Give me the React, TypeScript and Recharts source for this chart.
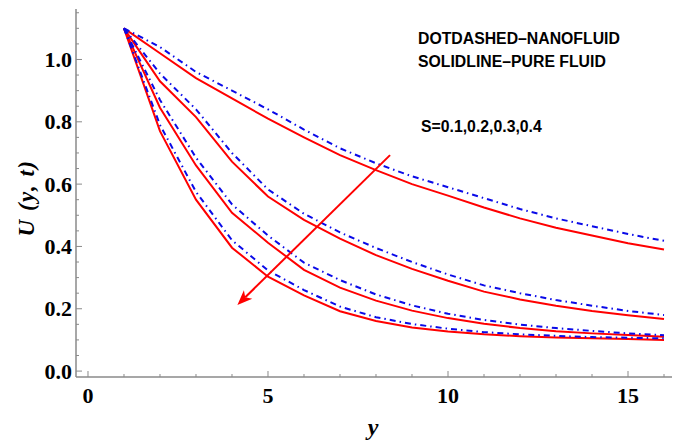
import React from "react";
import { LineChart, Line, XAxis, YAxis, ReferenceLine, Label } from "recharts";

// Data
const yPositions = [1, 2, 3, 4, 5, 6, 7, 8, 9, 10, 11, 12, 13, 14, 15, 16];

const pureS01 = [1.1, 1.02, 0.94, 0.875, 0.81, 0.75, 0.693, 0.645, 0.6, 0.563, 0.525, 0.49, 0.46, 0.435, 0.41, 0.39];
const nanoS01 = [1.1, 1.04, 0.96, 0.9, 0.84, 0.775, 0.715, 0.667, 0.625, 0.59, 0.555, 0.52, 0.49, 0.465, 0.44, 0.418];
const pureS02 = [1.1, 0.93, 0.815, 0.672, 0.56, 0.485, 0.425, 0.372, 0.328, 0.29, 0.255, 0.23, 0.21, 0.193, 0.179, 0.167];
const nanoS02 = [1.1, 0.955, 0.84, 0.7, 0.583, 0.505, 0.445, 0.395, 0.35, 0.31, 0.275, 0.25, 0.228, 0.21, 0.193, 0.18];
const pureS03 = [1.1, 0.845, 0.66, 0.508, 0.412, 0.325, 0.268, 0.226, 0.194, 0.17, 0.152, 0.138, 0.128, 0.121, 0.116, 0.11];
const nanoS03 = [1.1, 0.87, 0.685, 0.535, 0.435, 0.348, 0.292, 0.246, 0.211, 0.184, 0.164, 0.149, 0.138, 0.129, 0.121, 0.115];
const pureS04 = [1.1, 0.77, 0.55, 0.396, 0.303, 0.243, 0.192, 0.161, 0.14, 0.127, 0.118, 0.112, 0.108, 0.105, 0.103, 0.1];
const nanoS04 = [1.1, 0.79, 0.575, 0.42, 0.323, 0.26, 0.207, 0.173, 0.151, 0.136, 0.125, 0.118, 0.113, 0.109, 0.107, 0.105];

const xTicks = [0, 1, 2, 3, 4, 5, 6, 7, 8, 9, 10, 11, 12, 13, 14, 15, 16];
const xMajor = [0, 5, 10, 15];
const yTicks = [0, 0.05, 0.1, 0.15, 0.2, 0.25, 0.3, 0.35, 0.4, 0.45, 0.5, 0.55, 0.6, 0.65, 0.7, 0.75, 0.8, 0.85, 0.9, 0.95, 1.0, 1.05, 1.1, 1.15];
const yMajor = [0, 0.2, 0.4, 0.6, 0.8, 1.0];

const arrowFrom = { x: 8.39, u: 0.693 };
const arrowTo = { x: 4.15, u: 0.212 };

const annotations = ["DOTDASHED\u2013NANOFLUID", "SOLIDLINE\u2013PURE FLUID", "S=0.1,0.2,0.3,0.4"];

const rows = yPositions.map((x, i) => ({
  x,
  p1: pureS01[i], n1: nanoS01[i],
  p2: pureS02[i], n2: nanoS02[i],
  p3: pureS03[i], n3: nanoS03[i],
  p4: pureS04[i], n4: nanoS04[i],
}));

const FRAME = "#8a8a8a";
const RED = "#ff0000";
const BLUE = "#0a0ae8";
const DASH = "6 4 1.5 4";
const serif = "'Liberation Serif', 'Times New Roman', serif";
const sans = "'Liberation Sans', Arial, sans-serif";

const isMajorX = (v: number) => xMajor.some((m) => Math.abs(m - v) < 1e-9);
const isMajorY = (v: number) => yMajor.some((m) => Math.abs(m - v) < 1e-9);

const BottomTick = (p: any) => {
  const v = p.payload.value;
  const major = isMajorX(v);
  return (
    <g>
      <line x1={p.x} y1={p.y} x2={p.x} y2={p.y - (major ? 6 : 3)} stroke={FRAME} strokeWidth={1} />
      {major && (
        <text x={p.x} y={p.y + 26} textAnchor="middle" fontFamily={serif} fontWeight="bold" fontSize={22} fill="#000">
          {v}
        </text>
      )}
    </g>
  );
};
const TopTick = (p: any) => {
  const v = p.payload.value;
  const major = isMajorX(v);
  return <line x1={p.x} y1={p.y} x2={p.x} y2={p.y + (major ? 6 : 3)} stroke={FRAME} strokeWidth={1} />;
};
const LeftTick = (p: any) => {
  const v = p.payload.value;
  const major = isMajorY(v);
  return (
    <g>
      <line x1={p.x} y1={p.y} x2={p.x + (major ? 6 : 3)} y2={p.y} stroke={FRAME} strokeWidth={1} />
      {major && (
        <text x={p.x - 4} y={p.y + 7.5} textAnchor="end" fontFamily={serif} fontWeight="bold" fontSize={22} fill="#000">
          {v.toFixed(1)}
        </text>
      )}
    </g>
  );
};
const RightTick = (p: any) => {
  const v = p.payload.value;
  const major = isMajorY(v);
  return <line x1={p.x} y1={p.y} x2={p.x - (major ? 6 : 3)} y2={p.y} stroke={FRAME} strokeWidth={1} />;
};

const ArrowShape = (p: any) => {
  const { x1, y1, x2, y2 } = p;
  const ang = Math.atan2(y2 - y1, x2 - x1);
  const len = 15;
  const half = 6;
  const bx = x2 - len * Math.cos(ang);
  const by = y2 - len * Math.sin(ang);
  const nx = -Math.sin(ang);
  const ny = Math.cos(ang);
  const lx = x2 - (len - 4) * Math.cos(ang);
  const ly = y2 - (len - 4) * Math.sin(ang);
  return (
    <g>
      <line x1={x1} y1={y1} x2={lx} y2={ly} stroke={RED} strokeWidth={2} />
      <polygon
        points={`${x2},${y2} ${bx + nx * half},${by + ny * half} ${lx},${ly} ${bx - nx * half},${by - ny * half}`}
        fill={RED}
      />
    </g>
  );
};

const noteStyle: React.CSSProperties = {
  position: "absolute",
  fontFamily: sans,
  fontWeight: "bold",
  fontSize: 15.8,
  lineHeight: "18px",
  color: "#000",
  whiteSpace: "nowrap",
};

export default function App() {
  const W = 672;
  const H = 435;
  return (
    <div style={{ position: "relative", width: W, height: H }}>
      <LineChart width={W} height={H} data={rows} margin={{ top: 1, right: 8, bottom: 0, left: 0 }}>
        <XAxis
          xAxisId={0}
          dataKey="x"
          type="number"
          domain={[-0.333, 16.222]}
          ticks={xTicks}
          interval={0}
          height={66}
          tickSize={0}
          tickMargin={0}
          tickLine={false}
          axisLine={{ stroke: FRAME, strokeWidth: 1.5 }}
          tick={<BottomTick />}
          allowDataOverflow
        >
          <Label
            content={() => (
              <text x={365} y={427} textAnchor="middle" fontFamily={serif} fontStyle="italic" fontWeight="bold" fontSize={24} fill="#000">
                y
              </text>
            )}
          />
        </XAxis>
        <XAxis
          xAxisId="top"
          orientation="top"
          dataKey="x"
          type="number"
          domain={[-0.333, 16.222]}
          ticks={xTicks}
          interval={0}
          height={0}
          tickSize={0}
          tickMargin={0}
          tickLine={false}
          axisLine={{ stroke: FRAME, strokeWidth: 1.5 }}
          tick={<TopTick />}
          allowDataOverflow
        />
        <YAxis
          yAxisId={0}
          type="number"
          domain={[-0.019, 1.162]}
          ticks={yTicks}
          interval={0}
          width={68}
          tickSize={0}
          tickMargin={0}
          tickLine={false}
          axisLine={{ stroke: FRAME, strokeWidth: 1.5 }}
          tick={<LeftTick />}
          allowDataOverflow
        >
          <Label
            content={() => (
              <text
                x={0}
                y={0}
                transform="translate(26,190) rotate(-90)"
                textAnchor="middle"
                fontFamily={serif}
                fontStyle="italic"
                fontWeight="bold"
                fontSize={23}
                letterSpacing={1.5}
                fill="#000"
              >
                U (y, t)
              </text>
            )}
          />
        </YAxis>
        <YAxis
          yAxisId="right"
          orientation="right"
          type="number"
          domain={[-0.019, 1.162]}
          ticks={yTicks}
          interval={0}
          width={0}
          tickSize={0}
          tickMargin={0}
          tickLine={false}
          axisLine={{ stroke: FRAME, strokeWidth: 1.5 }}
          tick={<RightTick />}
          allowDataOverflow
        />

        <Line dataKey="p1" type="linear" stroke={RED} strokeWidth={2} dot={false} isAnimationActive={false} />
        <Line dataKey="p2" type="linear" stroke={RED} strokeWidth={2} dot={false} isAnimationActive={false} />
        <Line dataKey="p3" type="linear" stroke={RED} strokeWidth={2} dot={false} isAnimationActive={false} />
        <Line dataKey="p4" type="linear" stroke={RED} strokeWidth={2} dot={false} isAnimationActive={false} />
        <Line dataKey="n1" type="linear" stroke={BLUE} strokeWidth={2} strokeDasharray={DASH} dot={false} isAnimationActive={false} />
        <Line dataKey="n2" type="linear" stroke={BLUE} strokeWidth={2} strokeDasharray={DASH} dot={false} isAnimationActive={false} />
        <Line dataKey="n3" type="linear" stroke={BLUE} strokeWidth={2} strokeDasharray={DASH} dot={false} isAnimationActive={false} />
        <Line dataKey="n4" type="linear" stroke={BLUE} strokeWidth={2} strokeDasharray={DASH} dot={false} isAnimationActive={false} />

        <ReferenceLine
          segment={[
            { x: arrowFrom.x, y: arrowFrom.u },
            { x: arrowTo.x, y: arrowTo.u },
          ]}
          ifOverflow="visible"
          shape={<ArrowShape />}
        />
      </LineChart>
      <div style={{ ...noteStyle, left: 410, top: 22 }}>{annotations[0]}</div>
      <div style={{ ...noteStyle, left: 410, top: 45 }}>{annotations[1]}</div>
      <div style={{ ...noteStyle, left: 413, top: 110 }}>{annotations[2]}</div>
    </div>
  );
}
